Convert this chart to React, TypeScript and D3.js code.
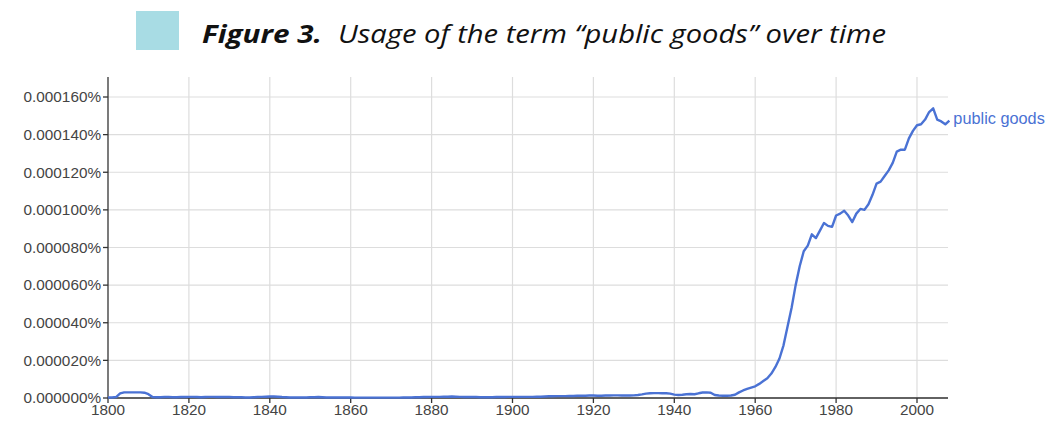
import React from "react";
import * as d3 from "d3";

const startYear = 1800;
// values in millionths of a percent (1 = 0.000001%)
const values: number[] = [
  // 1800-1809
  0.3, 0.3, 0.5, 2.5, 3.0, 3.0, 3.0, 3.0, 3.0, 2.8,
  // 1810-1819
  2.0, 0.5, 0.4, 0.4, 0.5, 0.5, 0.4, 0.4, 0.5, 0.5,
  // 1820-1829
  0.6, 0.6, 0.5, 0.4, 0.5, 0.6, 0.6, 0.5, 0.5, 0.6,
  // 1830-1839
  0.5, 0.4, 0.4, 0.4, 0.3, 0.3, 0.4, 0.5, 0.6, 0.7,
  // 1840-1849
  0.8, 0.8, 0.7, 0.5, 0.4, 0.3, 0.3, 0.3, 0.3, 0.3,
  // 1850-1859
  0.4, 0.4, 0.5, 0.4, 0.3, 0.3, 0.3, 0.3, 0.3, 0.3,
  // 1860-1869
  0.3, 0.2, 0.2, 0.2, 0.2, 0.2, 0.2, 0.2, 0.2, 0.2,
  // 1870-1879
  0.2, 0.2, 0.2, 0.3, 0.3, 0.3, 0.4, 0.4, 0.5, 0.5,
  // 1880-1889
  0.6, 0.6, 0.6, 0.7, 0.7, 0.8, 0.7, 0.6, 0.5, 0.5,
  // 1890-1899
  0.5, 0.5, 0.4, 0.4, 0.4, 0.4, 0.5, 0.5, 0.5, 0.6,
  // 1900-1909
  0.6, 0.6, 0.6, 0.6, 0.6, 0.6, 0.7, 0.7, 0.8, 0.9,
  // 1910-1919
  0.9, 1.0, 1.0, 1.0, 1.1, 1.1, 1.2, 1.2, 1.2, 1.3,
  // 1920-1929
  1.3, 1.2, 1.2, 1.3, 1.3, 1.4, 1.4, 1.3, 1.3, 1.3,
  // 1930-1939
  1.4, 1.6, 1.9, 2.3, 2.5, 2.6, 2.6, 2.5, 2.5, 2.3,
  // 1940-1949
  1.8, 1.6, 1.7, 2.0, 2.1, 2.0, 2.5, 2.9, 3.0, 2.8,
  // 1950-1959
  1.6, 1.3, 1.2, 1.2, 1.3, 1.7, 3.0, 4.0, 4.8, 5.5,
  // 1960-1969
  6.2, 7.5, 9.0, 10.5, 13, 16.5, 21, 28, 38, 48,
  // 1970-1979
  60, 70, 78, 81, 87, 85, 89, 93, 91.5, 91,
  // 1980-1989
  97, 98, 99.5, 97, 93.5, 98, 100.5, 100, 103, 108,
  // 1990-1999
  114, 115, 118, 121, 125, 131, 132, 132, 138, 142,
  // 2000-2008
  145, 145.5, 148, 152, 154, 148, 147, 145.5, 147.5,
];

const yTicks = [0, 20, 40, 60, 80, 100, 120, 140, 160];
const xTicks = [1800, 1820, 1840, 1860, 1880, 1900, 1920, 1940, 1960, 1980, 2000];
const seriesName = "public goods";
const titleBold = "Figure 3.";
const titleRest = "Usage of the term \u201Cpublic goods\u201D over time";

export default function App() {
  const width = 1048;
  const height = 422;
  const left = 108;
  const right = 948;
  const top = 77;
  const bottom = 398;

  const data = values.map((v, i) => ({ year: startYear + i, v }));
  const x = d3.scaleLinear().domain([1800, 2000]).range([left, 917]);
  const y = d3.scaleLinear().domain([0, 160]).range([bottom, 97]);
  const line = d3
    .line<{ year: number; v: number }>()
    .x((d) => x(d.year))
    .y((d) => y(d.v))
    .curve(d3.curveLinear);

  const fmt = (t: number) => (t / 1e6).toFixed(6) + "%";
  const last = data[data.length - 1];
  const axisFont = "Arial, 'Liberation Sans', sans-serif";

  return (
    <svg
      width={width}
      height={height}
      style={{ position: "absolute", left: 0, top: 0, background: "#fff" }}
    >
      <rect x={136} y={11} width={43} height={39} fill="#a8dce4" />
      <text
        y={43}
        fontFamily="'Open Sans', 'Liberation Sans', sans-serif"
        fontStyle="italic"
        fill="#111"
        fontSize={25}
      >
        <tspan x={202} fontWeight="bold" textLength={120} lengthAdjust="spacingAndGlyphs">
          {titleBold}
        </tspan>
        <tspan x={338} textLength={548} lengthAdjust="spacingAndGlyphs">
          {titleRest}
        </tspan>
      </text>

      {/* horizontal grid */}
      {yTicks.map((t) => (
        <line key={"h" + t} x1={left} x2={right} y1={y(t)} y2={y(t)} stroke="#ddd" strokeWidth={1.2} />
      ))}
      {/* vertical grid */}
      {xTicks.map((t) =>
        t === 1800 ? null : (
          <line key={"v" + t} x1={x(t)} x2={x(t)} y1={top} y2={bottom} stroke="#ddd" strokeWidth={1.2} />
        )
      )}

      {/* axes */}
      <line x1={left} x2={left} y1={top} y2={bottom} stroke="#333" strokeWidth={1.3} />
      <line x1={left} x2={right} y1={bottom} y2={bottom} stroke="#333" strokeWidth={1.3} />
      {yTicks.map((t) => (
        <g key={"yt" + t}>
          <line x1={left - 5} x2={left} y1={y(t)} y2={y(t)} stroke="#333" strokeWidth={1.3} />
          <text
            x={left - 7}
            y={y(t)}
            dy="0.35em"
            textAnchor="end"
            fontFamily={axisFont}
            fontSize={15.3}
            fill="#444"
          >
            {fmt(t)}
          </text>
        </g>
      ))}
      {xTicks.map((t) => (
        <g key={"xt" + t}>
          <line x1={x(t)} x2={x(t)} y1={bottom} y2={bottom + 5} stroke="#333" strokeWidth={1.3} />
          <text
            x={x(t)}
            y={415}
            textAnchor="middle"
            fontFamily={axisFont}
            fontSize={15.3}
            fill="#444"
          >
            {t}
          </text>
        </g>
      ))}

      <path d={line(data) || ""} fill="none" stroke="#4a72d4" strokeWidth={2.4} strokeLinejoin="round" />
      <text
        x={x(last.year) + 4}
        y={y(last.v) - 2}
        dy="0.35em"
        fontFamily={axisFont}
        fontSize={16.3}
        fill="#4a72d4"
      >
        {seriesName}
      </text>
    </svg>
  );
}
